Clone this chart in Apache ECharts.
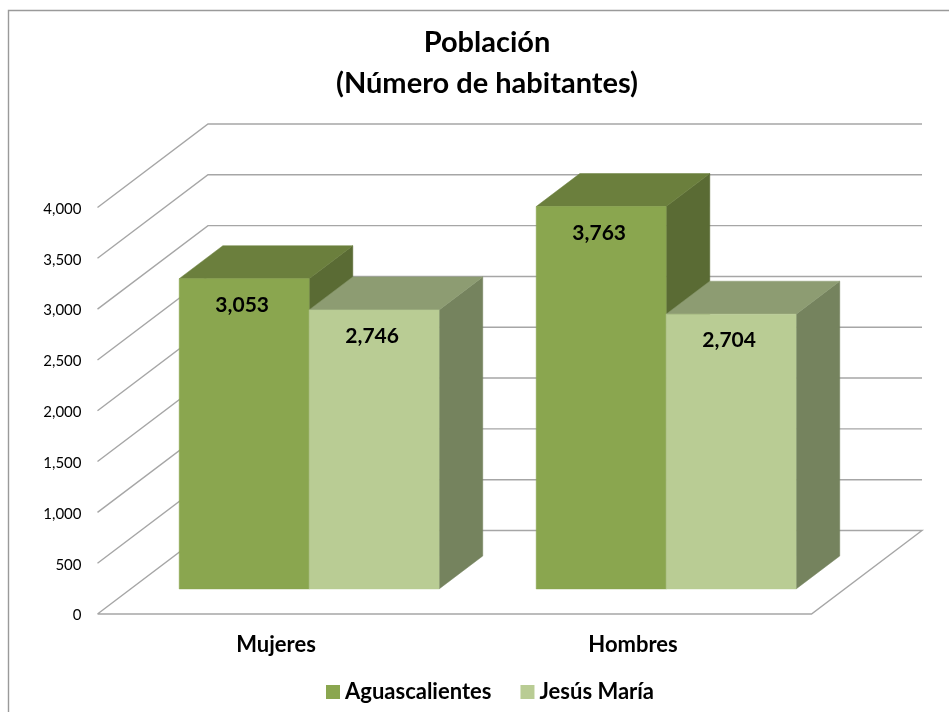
<!DOCTYPE html>
<html lang="es">
  <head>
    <meta charset="UTF-8" />
    <title>Población</title>
    <style>
      html, body { margin: 0; padding: 0; background: #fff; }
      #chart { width: 949px; height: 712px; }
    </style>
  </head>
  <body>
    <div id="chart"></div>
    <script src="https://cdn.jsdelivr.net/npm/echarts@6/dist/echarts.min.js"></script>
    <script>
      const categories = ['Mujeres', 'Hombres'];
      const aguascalientes = [3053, 3763];
      const jesusMaria = [2746, 2704];
      const wallTicks = [0, 500, 1000, 1500, 2000, 2500, 3000, 3500, 4000];

      const fontName = 'Lato, "Open Sans", sans-serif';
      const gridColor = '#a6a6a6';

      // oblique projection of the chart depth, as Excel draws it
      const depthX = 110.5;
      const depthY = -83.5;
      const barGap = 0.3; // floor depth in front of the bars
      const barDepth = 0.395;
      const barWidth = 0.364; // share of the category band

      function renderWall(params, api) {
        const sys = params.coordSys;
        const y = api.coord([0, api.value(1)])[1];
        const x0 = sys.x;
        const x1 = sys.x + sys.width;
        const style = { stroke: gridColor, lineWidth: 1.4, fill: 'none' };
        const pts = [[x0, y], [x0 + depthX, y + depthY], [x1 + depthX, y + depthY]];
        if (api.value(1) === 0) {
          pts.push([x1, y], [x0, y]);
        }
        return { type: 'polyline', shape: { points: pts }, style: style, silent: true };
      }

      function barRenderer(slot, colors) {
        return function (params, api) {
          const cat = api.value(0);
          const val = api.value(1);
          const band = api.size([1, 0])[0];
          const w = band * barWidth;
          const base = api.coord([cat, 0]);
          const top = api.coord([cat, val]);
          const shiftX = depthX * barGap;
          const shiftY = depthY * barGap;
          const dx = depthX * barDepth;
          const dy = depthY * barDepth;
          const l = base[0] + shiftX + (slot - 1) * w;
          const r = l + w;
          const b = base[1] + shiftY;
          const t = top[1] + shiftY;
          const face = (points, fill) => ({
            type: 'polygon',
            shape: { points: points },
            style: { fill: fill, stroke: fill, lineWidth: 0.5 },
          });
          return {
            type: 'group',
            children: [
              face([[r, t], [r + dx, t + dy], [r + dx, b + dy], [r, b]], colors.side),
              face([[l, t], [l + dx, t + dy], [r + dx, t + dy], [r, t]], colors.top),
              face([[l, t], [r, t], [r, b], [l, b]], colors.front),
              {
                type: 'text',
                style: {
                  text: val.toLocaleString('en-US'),
                  x: (l + r) / 2 - 2,
                  y: t + 26.5,
                  align: 'center',
                  verticalAlign: 'middle',
                  fill: '#000',
                  fontFamily: fontName,
                  fontWeight: 'bold',
                  fontSize: 21,
                },
              },
            ],
          };
        };
      }

      const darkColors = { front: '#8aa64f', top: '#6b7f3d', side: '#5a6b34' };
      const lightColors = { front: '#b9cc94', top: '#8d9c72', side: '#75835e' };

      const chart = echarts.init(document.getElementById('chart'));
      chart.setOption({
        animation: false,
        backgroundColor: '#fff',
        title: {
          text: 'Población\n(Número de habitantes)',
          left: 482,
          top: 17,
          textAlign: 'center',
          textStyle: {
            fontFamily: fontName,
            fontWeight: 'bold',
            fontSize: 29,
            lineHeight: 41,
            color: '#000',
          },
        },
        legend: {
          data: ['Aguascalientes', 'Jesús María'],
          left: 321,
          top: 676,
          icon: 'rect',
          itemWidth: 14,
          itemHeight: 14,
          itemGap: 29,
          textStyle: {
            fontFamily: fontName,
            fontWeight: 'bold',
            fontSize: 22,
            color: '#000',
          },
        },
        grid: { left: 97.5, right: 137.5, top: 207.5, bottom: 98 },
        xAxis: {
          type: 'category',
          data: categories,
          axisLine: { show: false },
          axisTick: { show: false },
          axisLabel: {
            margin: 20,
            color: '#000',
            fontFamily: fontName,
            fontWeight: 'bold',
            fontSize: 22,
          },
        },
        yAxis: {
          type: 'value',
          min: 0,
          max: 4000,
          interval: 500,
          axisLine: { show: false },
          axisTick: { show: false },
          splitLine: { show: false },
          axisLabel: {
            margin: 16,
            verticalAlign: 'top',
            lineHeight: 3,
            color: '#000',
            fontFamily: fontName,
            fontSize: 15,
            formatter: (v) => v.toLocaleString('en-US'),
          },
        },
        graphic: [
          {
            type: 'polyline',
            shape: { points: [[8.5, 712], [8.5, 10.5], [949, 10.5]] },
            style: { stroke: '#9a9a9a', lineWidth: 1.4, fill: 'none' },
            silent: true,
          },
        ],
        series: [
          {
            type: 'custom',
            name: 'walls',
            renderItem: renderWall,
            data: wallTicks.map((v) => [0, v]),
            silent: true,
          },
          {
            type: 'custom',
            name: 'Aguascalientes',
            renderItem: barRenderer(0, darkColors),
            itemStyle: { color: darkColors.front },
            data: aguascalientes.map((v, i) => [i, v]),
          },
          {
            type: 'custom',
            name: 'Jesús María',
            renderItem: barRenderer(1, lightColors),
            itemStyle: { color: lightColors.front },
            data: jesusMaria.map((v, i) => [i, v]),
          },
        ],
      });
    </script>
  </body>
</html>
